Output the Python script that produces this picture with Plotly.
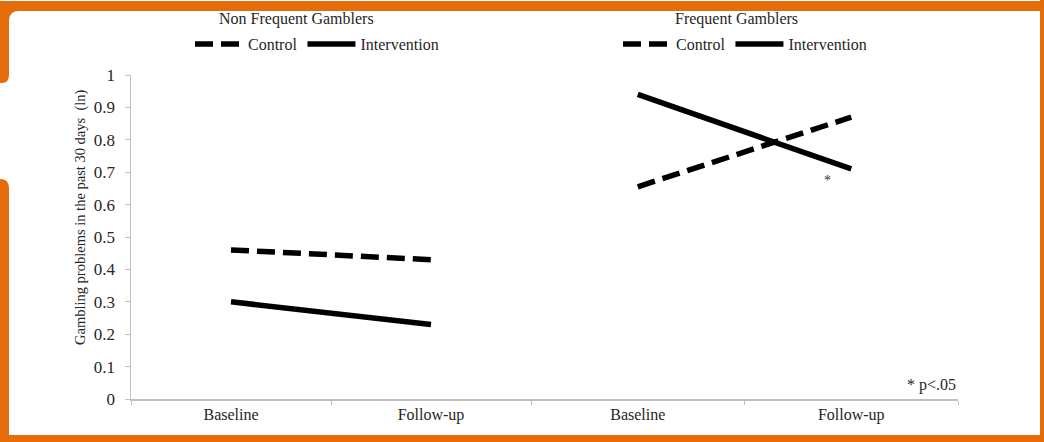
import plotly.graph_objects as go

# ---------------- data ----------------
periods = ["Baseline", "Follow-up"]
groups = ["Non Frequent Gamblers", "Frequent Gamblers"]
series_names = ["Control", "Intervention"]
nonfreq_control = [0.46, 0.43]
nonfreq_intervention = [0.30, 0.23]
freq_control = [0.655, 0.87]
freq_intervention = [0.94, 0.71]
y_ticks = [0, 0.1, 0.2, 0.3, 0.4, 0.5, 0.6, 0.7, 0.8, 0.9, 1]
y_title = "Gambling problems in the past 30 days  (ln)"
note = "* p<.05"

# ---------------- layout constants ----------------
W, H = 1044, 442
PL, PT, PR, PB = 131, 75, 958, 399
SPLIT = 531
FONT = "Liberation Serif, Times New Roman, serif"
TXT = "#262626"
AX = "#bfbfbf"
ORANGE = "#E46C0A"


def fx(px):
    return (px - PL) / (PR - PL)


def fy(py):
    return (PB - py) / (PB - PT)


fig = go.Figure()

dash = "18px,8px"
LW = 5.5
fig.add_trace(go.Scatter(x=periods, y=nonfreq_control, mode="lines", name=series_names[0],
                         line=dict(color="black", width=LW, dash=dash),
                         xaxis="x", yaxis="y", legend="legend"))
fig.add_trace(go.Scatter(x=periods, y=nonfreq_intervention, mode="lines", name=series_names[1],
                         line=dict(color="black", width=LW),
                         xaxis="x", yaxis="y", legend="legend"))
fig.add_trace(go.Scatter(x=periods, y=freq_control, mode="lines", name=series_names[0],
                         line=dict(color="black", width=LW, dash=dash),
                         xaxis="x2", yaxis="y", legend="legend2"))
fig.add_trace(go.Scatter(x=periods, y=freq_intervention, mode="lines", name=series_names[1],
                         line=dict(color="black", width=LW),
                         xaxis="x2", yaxis="y", legend="legend2"))

xcommon = dict(type="category", range=[-0.5, 1.5], showline=True, linecolor=AX, linewidth=1.5,
               ticks="outside", tickson="boundaries", ticklen=4, tickcolor=AX,
               showgrid=False, zeroline=False, tickfont=dict(family=FONT, size=16, color=TXT),
               fixedrange=True)

split = fx(SPLIT)
legend_common = dict(orientation="h", font=dict(family=FONT, size=16, color=TXT),
                     bgcolor="rgba(0,0,0,0)", yanchor="middle", y=fy(44), xanchor="left",
                     itemwidth=48, tracegroupgap=0)

fig.update_layout(
    width=W, height=H,
    margin=dict(l=PL, r=W - PR, t=PT, b=H - PB, pad=0),
    paper_bgcolor="white", plot_bgcolor="white",
    font=dict(family=FONT, size=16, color=TXT),
    xaxis=dict(domain=[0, split], anchor="y", **xcommon),
    xaxis2=dict(domain=[split, 1], anchor="y", **xcommon),
    yaxis=dict(range=[0, 1], tickvals=y_ticks, showline=True, linecolor=AX, linewidth=1.5,
               ticks="outside", ticklen=5, tickcolor=AX, showgrid=False, zeroline=False,
               tickfont=dict(family=FONT, size=17, color=TXT), ticklabelstandoff=6,
               fixedrange=True),
    legend=dict(x=fx(190), **legend_common),
    legend2=dict(x=fx(618), **legend_common),
    showlegend=True,
    hovermode=False,
)

# group titles
for name, cx in zip(groups, [296, 736]):
    fig.add_annotation(text=name, xref="paper", yref="paper", x=fx(cx), y=fy(19),
                       xanchor="center", yanchor="middle", showarrow=False,
                       font=dict(family=FONT, size=16, color=TXT))

# y-axis title
fig.add_annotation(text=y_title, xref="paper", yref="paper", x=fx(80), y=fy(218),
                   textangle=-90, xanchor="center", yanchor="middle", showarrow=False,
                   font=dict(family=FONT, size=14.5, color=TXT))

# significance star next to intervention follow-up (frequent)
fig.add_annotation(text="*", xref="x2", yref="y", x=periods[1], y=freq_intervention[1],
                   xshift=-24, yshift=-12, showarrow=False,
                   font=dict(family=FONT, size=14, color="#333333"))

# note
fig.add_annotation(text=note, xref="paper", yref="paper", x=1.0, y=fy(385),
                   xanchor="right", yanchor="middle", showarrow=False,
                   font=dict(family=FONT, size=16, color=TXT))


# ---------------- orange frame ----------------
def P(px, py):
    return f"{fx(px):.5f},{fy(py):.5f}"


frame_paths = [
    # top band + upper-left piece
    f"M{P(0,1)} L{P(W,1)} L{P(W,11)} L{P(19,11)} Q{P(9,11)} {P(9,21)} L{P(9,75)} "
    f"Q{P(9,83)} {P(2,83)} L{P(0,83)} Z",
    # lower-left piece + bottom band
    f"M{P(0,179)} Q{P(9,179)} {P(9,188)} L{P(9,435)} L{P(W,435)} L{P(W,H)} L{P(0,H)} Z",
    # right band
    f"M{P(1040,0)} L{P(W,0)} L{P(W,H)} L{P(1040,H)} Z",
]
for p in frame_paths:
    fig.add_shape(type="path", path=p, xref="paper", yref="paper",
                  fillcolor=ORANGE, line=dict(width=0), layer="above")

fig.write_html(
    "out.html",
    config={"displayModeBar": False, "staticPlot": True},
    post_script="document.body.style.margin='0';document.documentElement.style.overflow='hidden';",
)
